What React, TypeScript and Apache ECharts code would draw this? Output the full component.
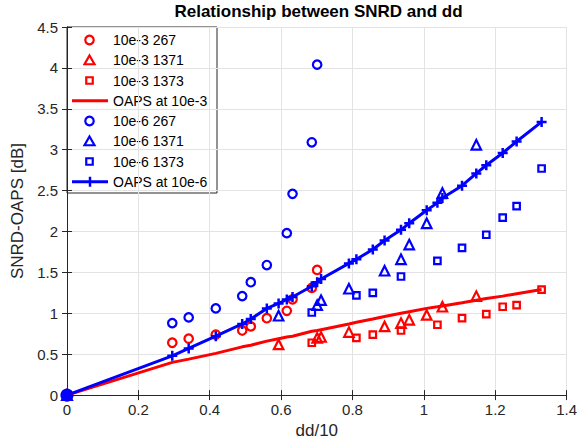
import React, { useEffect, useRef } from "react";
import * as echarts from "echarts";

// ---- data ----
const dd267 = [0, 0.295, 0.341, 0.417, 0.491, 0.515, 0.56, 0.616, 0.632, 0.686, 0.701];
const dd1371 = [0, 0.593, 0.701, 0.712, 0.79, 0.89, 0.936, 0.959, 1.008, 1.052, 1.147];
const dd1373 = [0, 0.686, 0.811, 0.857, 0.936, 1.038, 1.107, 1.175, 1.221, 1.26, 1.33];

const e3_267 = [0, 0.64, 0.69, 0.74, 0.79, 0.84, 0.94, 1.03, 1.17, 1.31, 1.53];
const e3_1371 = [0, 0.62, 0.7, 0.71, 0.77, 0.84, 0.88, 0.92, 0.98, 1.08, 1.21];
const e3_1373 = [0, 0.64, 0.7, 0.74, 0.79, 0.86, 0.94, 0.99, 1.08, 1.1, 1.29];

const e6_267 = [0, 0.88, 0.95, 1.06, 1.21, 1.38, 1.59, 1.98, 2.46, 3.09, 4.04];
const e6_1371 = [0, 0.97, 1.1, 1.16, 1.3, 1.52, 1.66, 1.84, 2.1, 2.47, 3.06];
const e6_1373 = [0, 1.01, 1.22, 1.25, 1.45, 1.64, 1.8, 1.96, 2.17, 2.31, 2.77];

const ddOAPS = [
  0, 0.295, 0.341, 0.417, 0.491, 0.515, 0.56, 0.593, 0.616, 0.632, 0.686, 0.701, 0.712,
  0.79, 0.811, 0.857, 0.89, 0.936, 0.959, 1.008, 1.038, 1.052, 1.107, 1.147, 1.175,
  1.221, 1.26, 1.33,
];
const oaps3 = [
  0, 0.4, 0.44, 0.51, 0.59, 0.61, 0.66, 0.69, 0.71, 0.72, 0.78, 0.79, 0.8, 0.87, 0.89,
  0.93, 0.96, 1.0, 1.02, 1.06, 1.08, 1.09, 1.13, 1.16, 1.18, 1.21, 1.24, 1.29,
];
const oaps6 = [
  0, 0.48, 0.57, 0.72, 0.87, 0.93, 1.06, 1.12, 1.17, 1.2, 1.33, 1.38, 1.42, 1.61, 1.66,
  1.78, 1.89, 2.02, 2.1, 2.26, 2.35, 2.41, 2.56, 2.71, 2.81, 2.96, 3.1, 3.34,
];

const seriesNames = [
  "10e-3 267",
  "10e-3 1371",
  "10e-3 1373",
  "OAPS at 10e-3",
  "10e-6 267",
  "10e-6 1371",
  "10e-6 1373",
  "OAPS at 10e-6",
];
const legendKinds = ["circle", "triangle", "rect", "line", "circle", "triangle", "rect", "lineplus"];

const RED = "#ff0000";
const BLUE = "#0000ff";
const AXIS = "#262626";
const FONT = "'Liberation Sans', Arial, Helvetica, sans-serif";
const PLUS = "path://M0,5L10,5M5,0L5,10";

const zip = (xs: number[], ys: number[]) => xs.map((x, i) => [x, ys[i]]);

function scatter(name: string, xs: number[], ys: number[], color: string, symbol: string, size: number) {
  return {
    name,
    type: "scatter",
    data: zip(xs, ys),
    symbol,
    symbolSize: size,
    itemStyle: { color: "rgba(255,255,255,0)", borderColor: color, borderWidth: 2.2, opacity: 1 },
    emphasis: { disabled: true },
  };
}

function legendGraphic() {
  const boxX = 67, boxY = 27, boxW = 150, boxH = 166;
  const firstY = 40, pitch = 20.25, symX = 89.5, lineX1 = 72, lineX2 = 108, textX = 113;
  const children: any[] = [
    {
      type: "rect",
      shape: { x: boxX, y: boxY, width: boxW, height: boxH },
      style: { fill: "#ffffff", stroke: AXIS, lineWidth: 1 },
    },
  ];
  seriesNames.forEach((name, i) => {
    const cy = firstY + i * pitch;
    const color = i < 4 ? RED : BLUE;
    const kind = legendKinds[i];
    const st = { fill: "none", stroke: color, lineWidth: 2.2 };
    if (kind === "circle") {
      children.push({ type: "circle", shape: { cx: symX, cy, r: 4.25 }, style: st });
    } else if (kind === "triangle") {
      children.push({
        type: "polygon",
        shape: { points: [[symX, cy - 4.8], [symX + 5, cy + 4], [symX - 5, cy + 4]] },
        style: st,
      });
    } else if (kind === "rect") {
      children.push({ type: "rect", shape: { x: symX - 3.25, y: cy - 3.25, width: 6.5, height: 6.5 }, style: st });
    } else {
      children.push({
        type: "line",
        shape: { x1: lineX1, y1: cy, x2: lineX2, y2: cy },
        style: { stroke: color, lineWidth: 3 },
      });
      if (kind === "lineplus") {
        children.push({
          type: "line",
          shape: { x1: symX + 0.5, y1: cy - 5, x2: symX + 0.5, y2: cy + 5 },
          style: { stroke: color, lineWidth: 2.5 },
        });
      }
    }
    children.push({
      type: "text",
      x: textX,
      y: cy,
      style: {
        text: name,
        fontFamily: FONT,
        fontSize: 14,
        fill: "#000",
        textAlign: "left",
        textVerticalAlign: "middle",
      },
    });
  });
  return { type: "group", z: 100, children };
}

export default function App() {
  const ref = useRef<HTMLDivElement>(null);
  useEffect(() => {
    document.body.style.margin = "0";
    const chart = echarts.init(ref.current!, null, { renderer: "svg" });
    const axisCommon = {
      axisLine: { show: true, lineStyle: { color: AXIS, width: 1 } },
      axisTick: { show: true, inside: true, length: 5, lineStyle: { color: AXIS } },
    };
    // blue circle series: the origin point is drawn as the filled blob seen in the reference
    const blueCircles: any = scatter(seriesNames[4], dd267, e6_267, BLUE, "circle", 8.5);
    blueCircles.data = blueCircles.data.map((p: number[], i: number) =>
      i === 0 ? { value: p, symbolSize: 11, itemStyle: { color: BLUE } } : p
    );
    chart.setOption({
      animation: false,
      textStyle: { fontFamily: FONT },
      grid: { left: 67, right: 10, top: 27, bottom: 47, containLabel: false },
      graphic: [
        {
          type: "text",
          x: 318.5,
          y: 3,
          z: 100,
          style: {
            text: "Relationship between SNRD and dd",
            fontFamily: FONT,
            fontSize: 17,
            fontWeight: "bold",
            fill: "#000",
            textAlign: "center",
            textVerticalAlign: "top",
          },
        },
        legendGraphic(),
      ],
      xAxis: [
        {
          type: "value",
          min: 0,
          max: 1.4,
          interval: 0.2,
          name: "dd/10",
          nameLocation: "middle",
          nameGap: 19,
          nameTextStyle: { fontSize: 17, color: AXIS, fontFamily: FONT },
          axisLabel: { fontSize: 15, color: AXIS, margin: 7, fontFamily: FONT },
          splitLine: { show: true, lineStyle: { color: "#e3e3e3", width: 1 } },
          ...axisCommon,
        },
        {
          type: "value",
          position: "top",
          min: 0,
          max: 1.4,
          interval: 0.2,
          axisLabel: { show: false },
          splitLine: { show: false },
          ...axisCommon,
        },
      ],
      yAxis: [
        {
          type: "value",
          min: 0,
          max: 4.5,
          interval: 0.5,
          name: "SNRD-OAPS [dB]",
          nameLocation: "middle",
          nameGap: 32,
          nameTextStyle: { fontSize: 17, color: AXIS, fontFamily: FONT },
          axisLabel: { fontSize: 15, color: AXIS, margin: 9, fontFamily: FONT },
          splitLine: { show: true, lineStyle: { color: "#e3e3e3", width: 1 } },
          ...axisCommon,
        },
        {
          type: "value",
          position: "right",
          min: 0,
          max: 4.5,
          interval: 0.5,
          axisLabel: { show: false },
          splitLine: { show: false },
          ...axisCommon,
        },
      ],
      series: [
        scatter(seriesNames[0], dd267, e3_267, RED, "circle", 8.5),
        scatter(seriesNames[1], dd1371, e3_1371, RED, "triangle", 9.5),
        scatter(seriesNames[2], dd1373, e3_1373, RED, "rect", 6.5),
        {
          name: seriesNames[3],
          type: "line",
          data: zip(ddOAPS, oaps3),
          symbol: "none",
          lineStyle: { color: RED, width: 3 },
          itemStyle: { color: RED },
          emphasis: { disabled: true },
        },
        blueCircles,
        scatter(seriesNames[5], dd1371, e6_1371, BLUE, "triangle", 9.5),
        scatter(seriesNames[6], dd1373, e6_1373, BLUE, "rect", 6.5),
        {
          name: seriesNames[7],
          type: "line",
          data: zip(ddOAPS, oaps6),
          symbol: PLUS,
          symbolSize: 10,
          showSymbol: true,
          showAllSymbol: true,
          lineStyle: { color: BLUE, width: 3 },
          itemStyle: { color: BLUE, borderColor: BLUE, borderWidth: 2.5 },
          emphasis: { disabled: true },
        },
      ],
    });
    return () => chart.dispose();
  }, []);
  return <div ref={ref} style={{ width: 580, height: 444 }} />;
}
